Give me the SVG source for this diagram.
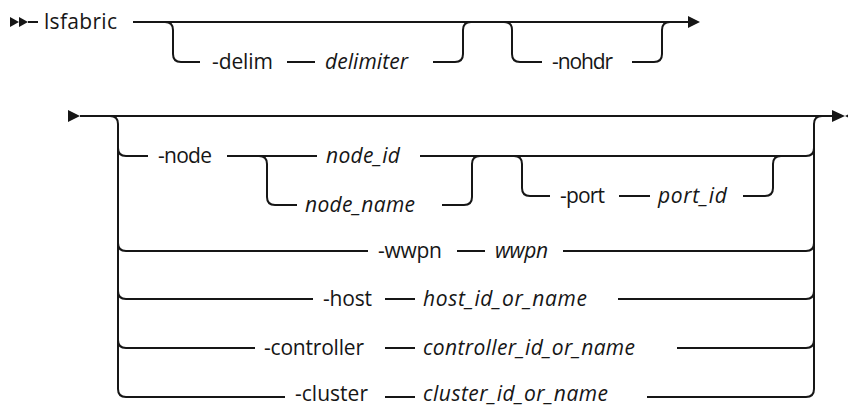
<svg xmlns="http://www.w3.org/2000/svg" width="848" height="407" viewBox="0 0 848 407">
<style>
.t{font-family:"Open Sans","Noto Sans","Liberation Sans",sans-serif;font-size:21px;fill:#161616}
.i{font-style:italic}
.c path{fill:none;stroke:#161616;stroke-width:2}
.a{fill:#161616}
</style>
<rect width="848" height="407" fill="#fff"/>
<g id="connectors" class="c">
<path d="M28,22 H38"/>
<path d="M133,22 H688"/>
<path d="M165,22 Q173,22 173,30 V54 Q173,62 181,62 H200"/>
<path d="M287,62 H315"/>
<path d="M433,62 H455 Q463,62 463,54 V30 Q463,22 471,22"/>
<path d="M504,22 Q512,22 512,30 V54 Q512,62 520,62 H542"/>
<path d="M632,62 H654 Q662,62 662,54 V30 Q662,22 670,22"/>
<path d="M80,116 H832"/>
<path d="M110,116 Q118,116 118,124 V389 Q118,397 126,397 H285"/>
<path d="M118,148 Q118,156 126,156 H148"/>
<path d="M118,243 Q118,251 126,251 H368"/>
<path d="M118,291 Q118,299 126,299 H313"/>
<path d="M118,340 Q118,348 126,348 H255"/>
<path d="M647,397 H806 Q814,397 814,389 V124 Q814,116 822,116"/>
<path d="M420,156 H806 Q814,156 814,148"/>
<path d="M563,251 H806 Q814,251 814,243"/>
<path d="M618,299 H806 Q814,299 814,291"/>
<path d="M677,348 H806 Q814,348 814,340"/>
<path d="M227,156 H317"/>
<path d="M259,156 Q267,156 267,164 V197 Q267,205 275,205 H297"/>
<path d="M442,205 H464 Q472,205 472,197 V164 Q472,156 480,156"/>
<path d="M514,156 Q522,156 522,164 V188 Q522,196 530,196 H550"/>
<path d="M619,196 H650"/>
<path d="M743,196 H765 Q773,196 773,188 V164 Q773,156 781,156"/>
<path d="M457,251 H485"/>
<path d="M385,299 H415"/>
<path d="M385,348 H415"/>
<path d="M385,397 H415"/>
<polygon class="a" points="10,17 19,22 10,27"/>
<polygon class="a" points="19,17 28,22 19,27"/>
<polygon class="a" points="688,16 700,22 688,28"/>
<polygon class="a" points="68,110 80,116 68,122"/>
<polygon class="a" points="832,110 845,116 832,122"/>
<polygon class="a" points="858,110 845,116 858,122"/>
</g>
<g id="n-lsfabric"><text class="t" x="44" y="29" textLength="73">lsfabric</text></g>
<g id="n-delim"><text class="t" x="212" y="69" textLength="61">-delim</text></g>
<g id="n-delimiter"><text class="t i" x="325" y="69" textLength="83">delimiter</text></g>
<g id="n-nohdr"><text class="t" x="552" y="69" textLength="61">-nohdr</text></g>
<g id="n-node"><text class="t" x="158" y="163" textLength="54">-node</text></g>
<g id="n-node_id"><text class="t i" x="326" y="163" textLength="74">node_id</text></g>
<g id="n-node_name"><text class="t i" x="305" y="212" textLength="110">node_name</text></g>
<g id="n-port"><text class="t" x="560" y="203" textLength="45">-port</text></g>
<g id="n-port_id"><text class="t i" x="658" y="203" textLength="69">port_id</text></g>
<g id="n-wwpn"><text class="t" x="378" y="258" textLength="64">-wwpn</text></g>
<g id="n-wwpn-val"><text class="t i" x="495" y="258" textLength="53">wwpn</text></g>
<g id="n-host"><text class="t" x="323" y="306" textLength="49">-host</text></g>
<g id="n-host-val"><text class="t i" x="423" y="306" textLength="164">host_id_or_name</text></g>
<g id="n-controller"><text class="t" x="264" y="355" textLength="100">-controller</text></g>
<g id="n-controller-val"><text class="t i" x="423" y="355" textLength="212">controller_id_or_name</text></g>
<g id="n-cluster"><text class="t" x="295" y="401" textLength="73">-cluster</text></g>
<g id="n-cluster-val"><text class="t i" x="423" y="401" textLength="185">cluster_id_or_name</text></g>
</svg>
